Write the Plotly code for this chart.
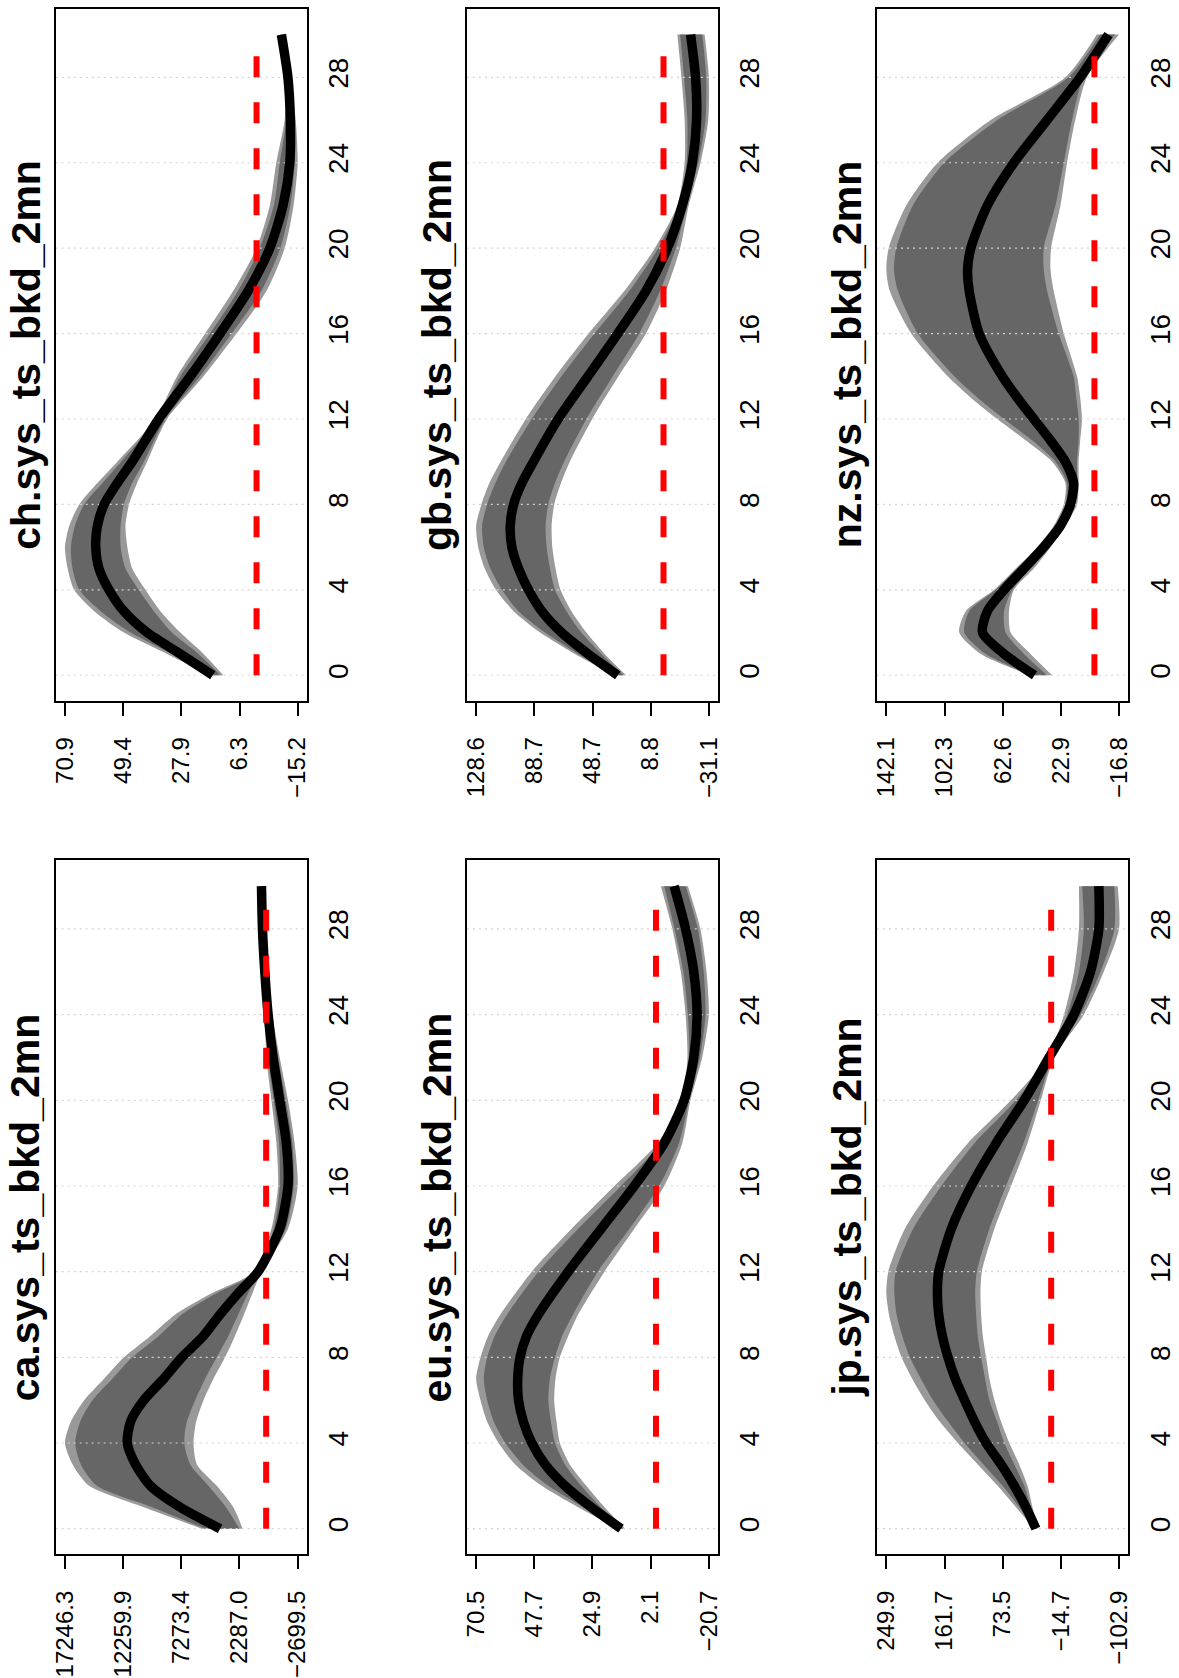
import plotly.graph_objects as go

W, HGT = 1179, 1678

# ---------------- data ----------------
H21 = [0, 1, 2, 3, 4, 5, 6, 7, 8, 9, 10, 12, 14, 16, 18, 20, 22, 24, 26, 28, 30]
H_ca = [0, 1, 2, 3, 4, 5, 6, 7, 8, 9, 10, 11, 12, 14, 16, 18, 20, 22, 24, 26, 28, 30]
H_jp = [0, 1, 2, 3, 4, 5, 6, 7, 8, 9, 10, 11, 12, 14, 16, 18, 20, 22, 24, 26, 28, 30]
H_nz = [0, 1, 2, 3, 4, 5, 6, 7, 8, 9, 10, 11, 12, 13, 14, 16, 18, 19, 20, 22, 24, 26, 28, 30]
horizon_ticks = [0, 4, 8, 12, 16, 20, 24, 28]
zero_h = [0, 29]

# ca
ca_ticks = [17246.3, 12259.9, 7273.4, 2287.0, -2699.5]
ca_med = [3950, 7359, 9916, 11195, 11905, 11621, 10484, 8780, 7217, 5371, 3950, 2388, 683, -1164, -1874, -1732, -1164, -595, -169, 115, 314, 399]
ca_in_hi = [5229, 9774, 14519, 15883, 16366, 15939, 14888, 13184, 11479, 9206, 7217, 4234, 825, -652, -1164, -1107, -652, -169, 58, 257, 427, 484]
ca_in_lo = [2302, 3439, 4945, 6507, 7018, 6791, 6081, 5229, 4234, 3240, 2388, 1535, 541, -1675, -2357, -2243, -1675, -1022, -453, -84, 86, 172]
ca_out_hi = [5513, 10484, 15172, 16593, 17246.3, 16735, 15598, 13894, 12189, 9916, 7785, 4632, 1050, -453, -1022, -880, -453, -27, 115, 314, 484, 541]
ca_out_lo = [2018, 2814, 4234, 5939, 6223, 5996, 5371, 4518, 3524, 2672, 1900, 1166, 399, -1874, -2699.5, -2442, -1874, -1164, -539, -169, 30, 115]

# ch
ch_ticks = [70.9, 49.4, 27.9, 6.3, -15.2]
ch_med = [16.2, 28.2, 40.5, 49.1, 54.6, 58.3, 59.5, 58.9, 56.4, 51.5, 46.0, 36.2, 24.5, 13.5, 3.1, -4.9, -9.8, -12.3, -12.5, -11.6, -9.2]
ch_in_hi = [16.9, 31.3, 46.6, 57.7, 65.6, 68.1, 68.7, 67.2, 63.8, 57.0, 50.1, 36.8, 28.2, 17.2, 6.8, -1.2, -6.4, -8.6, -11.0, -11.3, -9.1]
ch_in_lo = [13.3, 21.5, 31.3, 38.0, 43.6, 48.5, 50.3, 50.3, 49.1, 46.0, 41.7, 33.7, 20.9, 9.2, -1.8, -8.8, -12.5, -14.1, -13.7, -12.3, -9.6]
ch_out_hi = [17.4, 33.1, 49.1, 60.1, 67.5, 69.9, 70.9, 69.3, 65.6, 58.9, 51.5, 37.4, 29.4, 19.0, 8.6, 0.0, -4.9, -7.3, -10.4, -11.0, -8.8]
ch_out_lo = [12.3, 19.6, 28.2, 35.6, 41.1, 46.0, 47.8, 48.5, 47.2, 44.2, 40.5, 33.1, 19.6, 7.4, -3.7, -10.4, -13.7, -15.2, -14.5, -12.5, -9.8]

# gb
gb_ticks = [128.6, 88.7, 48.7, 8.8, -31.1]
gb_med = [31.4, 51.8, 70.0, 83.6, 92.7, 99.5, 104.1, 105.2, 102.9, 97.2, 89.3, 72.3, 51.8, 31.4, 12.0, -2.7, -12.9, -19.8, -22.7, -22.0, -18.6]
gb_in_hi = [32.5, 58.6, 81.3, 99.5, 110.9, 118.8, 123.4, 124.5, 121.1, 115.4, 108.2, 90.4, 70.0, 47.3, 23.4, 3.6, -10.7, -15.9, -16.4, -14.1, -11.4]
gb_in_lo = [27.3, 42.7, 56.4, 66.6, 74.5, 77.9, 80.2, 80.9, 79.1, 74.5, 68.2, 52.9, 34.8, 16.6, 2.3, -8.4, -15.9, -23.8, -28.8, -29.3, -26.6]
gb_out_hi = [33.6, 60.9, 84.7, 102.9, 115.0, 122.7, 127.2, 128.6, 125.0, 119.5, 111.8, 94.5, 74.1, 51.4, 26.8, 5.9, -9.5, -14.5, -14.5, -12.3, -9.5]
gb_out_lo = [25.7, 40.4, 52.9, 63.2, 70.7, 74.1, 76.3, 76.8, 75.0, 70.4, 64.3, 48.9, 30.9, 12.0, -1.6, -11.4, -17.3, -25.4, -30.7, -31.1, -28.2]

# eu
eu_ticks = [70.5, 47.7, 24.9, 2.1, -20.7]
eu_med = [13.7, 25.4, 35.7, 43.5, 48.7, 52.0, 53.9, 54.2, 53.3, 50.7, 46.1, 34.4, 21.5, 8.5, -3.2, -11.0, -14.8, -16.1, -14.8, -11.6, -7.1]
eu_in_hi = [14.6, 28.6, 42.2, 52.3, 59.1, 63.6, 66.2, 67.5, 66.2, 63.2, 58.4, 46.1, 30.5, 13.7, -1.9, -10.7, -13.0, -12.5, -10.7, -7.3, -3.2]
eu_in_lo = [12.7, 21.7, 29.3, 35.7, 39.6, 41.2, 42.2, 41.6, 39.6, 36.8, 32.5, 22.8, 10.4, -1.2, -9.0, -13.0, -17.2, -19.4, -18.7, -16.4, -11.6]
eu_out_hi = [15.0, 30.5, 44.8, 55.2, 61.7, 66.2, 68.8, 70.5, 68.8, 65.8, 61.0, 48.7, 33.1, 16.3, -0.6, -10.3, -12.3, -11.6, -9.7, -6.4, -1.9]
eu_out_lo = [12.1, 20.2, 27.3, 33.8, 37.7, 39.0, 39.9, 39.4, 37.7, 34.4, 30.5, 20.2, 8.5, -3.2, -10.3, -13.5, -18.1, -20.7, -19.8, -17.4, -12.5]

# nz
nz_ticks = [142.1, 102.3, 62.6, 22.9, -16.8]
nz_med = [40.9, 61.7, 76.4, 73.1, 61.7, 48.1, 34.6, 23.2, 16.4, 14.2, 19.8, 30.0, 41.4, 52.7, 62.9, 78.7, 85.5, 86.6, 84.4, 73.1, 55.0, 32.3, 9.7, -9.6]
nz_in_hi = [42.5, 74.2, 88.9, 85.5, 67.4, 52.7, 38.0, 26.6, 19.8, 18.7, 26.6, 42.5, 61.7, 79.8, 95.7, 120.6, 134.2, 136.9, 135.3, 124.0, 102.5, 66.3, 17.6, -3.9]
nz_in_lo = [32.3, 48.1, 60.6, 61.7, 56.1, 43.6, 31.2, 20.9, 13.1, 11.9, 11.9, 10.8, 10.8, 12.4, 14.2, 24.4, 32.3, 34.6, 34.6, 26.6, 20.9, 15.3, 7.4, -14.1]
nz_out_hi = [43.6, 77.6, 92.3, 87.8, 68.5, 53.8, 39.1, 27.8, 20.9, 19.8, 28.9, 47.0, 66.3, 84.4, 100.2, 125.1, 139.8, 142.1, 140.5, 128.5, 107.0, 70.8, 19.8, -1.7]
nz_out_lo = [28.9, 43.6, 57.2, 58.3, 55.0, 41.4, 30.0, 19.8, 11.9, 10.8, 10.8, 9.7, 8.5, 9.7, 11.9, 20.9, 27.8, 30.0, 29.6, 23.2, 18.7, 13.1, 5.1, -16.8]

# jp
jp_ticks = [249.9, 161.7, 73.5, -14.7, -102.9]
jp_med = [23.2, 38.3, 55.9, 76.0, 98.6, 116.2, 131.3, 145.4, 156.4, 165.0, 170.5, 172.5, 170.5, 151.4, 121.2, 83.5, 40.8, 3.1, -34.6, -59.7, -72.3, -72.3]
jp_in_hi = [25.2, 48.4, 73.5, 102.6, 131.3, 156.4, 179.0, 197.6, 214.2, 225.8, 234.3, 237.8, 235.8, 209.2, 166.5, 116.2, 53.4, 4.6, -24.5, -42.1, -49.6, -47.1]
jp_in_lo = [21.7, 30.8, 40.8, 55.9, 71.0, 82.0, 93.6, 100.1, 106.2, 111.2, 113.7, 115.2, 112.7, 93.6, 68.5, 41.8, 19.7, -2.4, -44.6, -74.8, -95.9, -95.9]
jp_out_hi = [25.7, 53.4, 81.0, 111.2, 141.4, 169.0, 191.6, 210.7, 226.8, 237.8, 245.9, 249.9, 246.9, 221.8, 179.0, 126.3, 60.9, 5.6, -19.5, -34.6, -42.1, -42.1]
jp_out_lo = [20.7, 28.3, 35.8, 48.4, 63.4, 76.0, 86.0, 93.6, 98.6, 103.6, 106.2, 107.2, 105.1, 86.0, 60.9, 35.8, 15.7, -4.4, -49.6, -79.8, -102.9, -100.9]

# ---------------- styling / layout ----------------
FONT = "Liberation Sans, Arial, Helvetica, sans-serif"
OUTER = "#999999"
INNER = "#666666"

# panel boxes in pixels (left, right, top, bottom)
col_x = [(51, 304), (465, 718), (878, 1131)]
row_y = [(9, 703), (863, 1559)]

panels = [
    ("ch.sys_ts_bkd_2mn", 0, 0, H21, ch_ticks, ch_med, ch_in_hi, ch_in_lo, ch_out_hi, ch_out_lo),
    ("ca.sys_ts_bkd_2mn", 0, 1, H_ca, ca_ticks, ca_med, ca_in_hi, ca_in_lo, ca_out_hi, ca_out_lo),
    ("gb.sys_ts_bkd_2mn", 1, 0, H21, gb_ticks, gb_med, gb_in_hi, gb_in_lo, gb_out_hi, gb_out_lo),
    ("eu.sys_ts_bkd_2mn", 1, 1, H21, eu_ticks, eu_med, eu_in_hi, eu_in_lo, eu_out_hi, eu_out_lo),
    ("nz.sys_ts_bkd_2mn", 2, 0, H_nz, nz_ticks, nz_med, nz_in_hi, nz_in_lo, nz_out_hi, nz_out_lo),
    ("jp.sys_ts_bkd_2mn", 2, 1, H_jp, jp_ticks, jp_med, jp_in_hi, jp_in_lo, jp_out_hi, jp_out_lo),
]


def fmt(v):
    s = f"{v:.1f}"
    return s.replace("-", "\u2212")


fig = go.Figure()
layout = dict(
    width=W, height=HGT,
    margin=dict(l=0, r=0, t=0, b=0),
    paper_bgcolor="white", plot_bgcolor="white",
    showlegend=False,
    annotations=[],
)

LINE_KW = dict(shape="spline", smoothing=0.7)

for i, (title, c, r, hz, ticks, med, in_hi, in_lo, out_hi, out_lo) in enumerate(panels):
    n = i + 1
    xa = "x" if n == 1 else f"x{n}"
    ya = "y" if n == 1 else f"y{n}"
    lo, hi = min(ticks), max(ticks)
    pad = 0.04 * (hi - lo)
    hlo, hhi = min(hz), max(hz)
    hpad = 0.04 * (hhi - hlo)

    # outer band
    fig.add_trace(go.Scatter(x=out_lo, y=hz, mode="lines", line=dict(width=0, **LINE_KW),
                             xaxis=xa, yaxis=ya, hoverinfo="skip"))
    fig.add_trace(go.Scatter(x=out_hi, y=hz, mode="lines", line=dict(width=0, **LINE_KW),
                             fill="tonextx", fillcolor=OUTER, xaxis=xa, yaxis=ya, hoverinfo="skip"))
    # inner band
    fig.add_trace(go.Scatter(x=in_lo, y=hz, mode="lines", line=dict(width=0, **LINE_KW),
                             xaxis=xa, yaxis=ya, hoverinfo="skip"))
    fig.add_trace(go.Scatter(x=in_hi, y=hz, mode="lines", line=dict(width=0, **LINE_KW),
                             fill="tonextx", fillcolor=INNER, xaxis=xa, yaxis=ya, hoverinfo="skip"))
    # dotted grid lines
    for h in horizon_ticks:
        fig.add_trace(go.Scatter(x=[hi + pad, lo - pad], y=[h, h], mode="lines",
                                 line=dict(color="#D3D3D3", width=1.2, dash="2px,4px"),
                                 xaxis=xa, yaxis=ya, hoverinfo="skip"))
    # median
    fig.add_trace(go.Scatter(x=med, y=hz, mode="lines", line=dict(color="black", width=9.5, **LINE_KW),
                             xaxis=xa, yaxis=ya, hoverinfo="skip"))
    # zero line
    fig.add_trace(go.Scatter(x=[0, 0], y=zero_h, mode="lines",
                             line=dict(color="#FF0000", width=6, dash="21px,25px"),
                             xaxis=xa, yaxis=ya, hoverinfo="skip"))

    x0, x1 = col_x[c]
    y0, y1 = row_y[r]
    layout["xaxis" if n == 1 else f"xaxis{n}"] = dict(
        domain=[x0 / W, x1 / W], anchor=ya,
        range=[hi + pad, lo - pad],
        tickmode="array", tickvals=ticks, ticktext=[fmt(t) for t in ticks],
        tickangle=-90, ticks="outside", ticklen=13, tickwidth=1.5, tickcolor="black",
        showline=True, mirror=True, linecolor="black", linewidth=1.5,
        showgrid=False, zeroline=False,
        tickfont=dict(family=FONT, size=24, color="black"),
        ticklabelstandoff=12,
    )
    layout["yaxis" if n == 1 else f"yaxis{n}"] = dict(
        domain=[1 - y1 / HGT, 1 - y0 / HGT], anchor=xa,
        range=[hlo - hpad, hhi + hpad],
        tickmode="array", tickvals=horizon_ticks, ticktext=[str(t) for t in horizon_ticks],
        tickangle=-90, side="right", ticks="",
        showline=True, mirror=True, linecolor="black", linewidth=1.5,
        showgrid=False, zeroline=False,
        tickfont=dict(family=FONT, size=28, color="black"),
        ticklabelstandoff=6,
    )
    layout["annotations"].append(dict(
        text=f"<b>{title}</b>", xref="paper", yref="paper",
        x=(x0 - 30) / W, y=1 - ((y0 + y1) / 2) / HGT,
        xanchor="center", yanchor="middle", textangle=-90, showarrow=False,
        font=dict(family=FONT, size=41, color="black"),
    ))

fig.update_layout(**layout)
fig.write_html("out.html")
